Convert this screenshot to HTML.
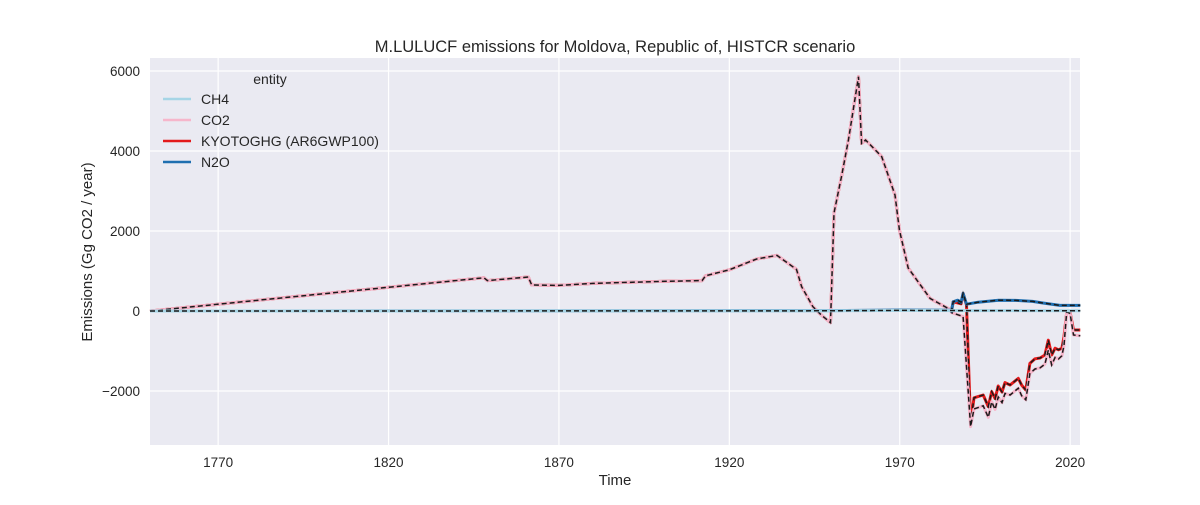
<!DOCTYPE html>
<html><head><meta charset="utf-8"><style>
body{margin:0;background:#fff;font-family:"Liberation Sans",sans-serif}
svg text{font-family:"Liberation Sans",sans-serif;fill:#262626}
</style></head><body>
<svg id="chart" width="1200" height="500" xmlns="http://www.w3.org/2000/svg">
<rect x="150" y="58" width="930" height="387" fill="#eaeaf2"/>
<g id="grid"></g><g id="series"></g><g id="ticks"></g>
<text x="615" y="52" text-anchor="middle" font-size="16.5">M.LULUCF emissions for Moldova, Republic of, HISTCR scenario</text>
<text x="615" y="485" text-anchor="middle" font-size="15">Time</text>
<text transform="translate(92,252) rotate(-90)" text-anchor="middle" font-size="15">Emissions (Gg CO2 / year)</text>
<g>
<text x="270" y="84" text-anchor="middle" font-size="14">entity</text>
<g><line x1="163" y1="99" x2="191" y2="99" stroke="#a6d5e6" stroke-width="2.5"/><text x="201" y="104" font-size="14">CH4</text></g>
<g><line x1="163" y1="120" x2="191" y2="120" stroke="#f6b6cb" stroke-width="2.5"/><text x="201" y="125" font-size="14">CO2</text></g>
<g><line x1="163" y1="141" x2="191" y2="141" stroke="#e31a1c" stroke-width="2.5"/><text x="201" y="146" font-size="14">KYOTOGHG (AR6GWP100)</text></g>
<g><line x1="163" y1="162" x2="191" y2="162" stroke="#1f6fb0" stroke-width="2.5"/><text x="201" y="167" font-size="14">N2O</text></g>
</g>
</svg>
<script>
const xTicks=[1770,1820,1870,1920,1970,2020];
const yTicks=[6000,4000,2000,0,-2000];
const yTickLabels=["6000","4000","2000","0","\u22122000"];
const co2Years=[1750,1848,1849,1861,1862,1870,1880,1900,1912,1913,1920,1928,1934,1939.7,1941.2,1944.5,1947,1949.7,1950.7,1953,1955,1957.9,1958.8,1960,1964.7,1968.6,1969.9,1972.5,1975.4,1978.9,1984.7,1985.2,1988.6,1990.8,1991.8,1994.5,1996,1997,1998,1998.9,2000,2000.9,2002.4,2004.8,2005.8,2007,2008.2,2009.7,2011.2,2012.6,2013.6,2014.6,2015.6,2016.6,2017.6,2018.2,2019,2020,2021,2023];
const co2Values=[0,830,760,850,650,640,690,740,760,880,1030,1300,1390,1040,610,110,-100,-290,2450,3400,4300,5857,4190,4275,3860,2900,2025,1075,730,315,40,-40,-140,-2890,-2450,-2370,-2660,-2270,-2460,-2150,-2290,-2060,-2100,-1930,-2120,-2220,-1560,-1450,-1420,-1330,-980,-1350,-1160,-1200,-1120,-860,-20,-60,-600,-620];
const kyotoYears=[1750,1848,1849,1861,1862,1870,1880,1900,1912,1913,1920,1928,1934,1939.7,1941.2,1944.5,1947,1949.7,1950.7,1953,1955,1957.9,1958.8,1960,1964.7,1968.6,1969.9,1972.5,1975.4,1978.9,1984.7,1985.2,1985.7,1988,1988.6,1989.6,1990.8,1991.8,1994.5,1996,1997,1998,1998.9,2000,2000.9,2002.4,2004.8,2005.8,2007,2008.2,2009.7,2011.2,2012.6,2013.6,2014.6,2015.6,2016.6,2017.6,2018.2,2019,2020,2021,2023];
const kyotoValues=[0,830,760,850,650,640,690,740,760,880,1030,1300,1390,1040,610,110,-100,-290,2450,3400,4300,5857,4190,4275,3860,2900,2025,1075,730,315,40,0,230,180,440,150,-2810,-2170,-2100,-2390,-2015,-2190,-1875,-2025,-1790,-1850,-1685,-1855,-1975,-1310,-1195,-1175,-1100,-730,-1100,-930,-970,-930,-640,-40,-40,-475,-475];
const n2oYears=[1750,1900,1950,1970,1984.7,1985.2,1985.7,1987,1988,1988.6,1989.6,1993,1999,2004,2009,2012,2017,2023];
const n2oValues=[0,5,10,25,20,0,230,270,220,440,170,220,270,265,240,200,140,140];
const ch4Years=[1750,1900,1950,1970,1990,2023];
const ch4Values=[0,2,5,15,10,5];
const NS='http://www.w3.org/2000/svg';
const X0=150,X1=1080,Y0=58,Y1=445,YR0=1750,YR1=2022.9,V0=-3350,V1=6325;
function xs(y){return X0+(y-YR0)/(YR1-YR0)*(X1-X0);}
function ys(v){return Y1-(v-V0)/(V1-V0)*(Y1-Y0);}
const grid=document.getElementById('grid'),ticks=document.getElementById('ticks'),ser=document.getElementById('series');
xTicks.forEach(t=>{
 const l=document.createElementNS(NS,'line');
 
 
 l.setAttribute('x1',xs(t));l.setAttribute('x2',xs(t));l.setAttribute('y1',Y0);l.setAttribute('y2',Y1);l.setAttribute('stroke','#fff');l.setAttribute('stroke-width','1.2');grid.appendChild(l);
 const tx=document.createElementNS(NS,'text');
 
 
 tx.setAttribute('x',xs(t));tx.setAttribute('y',467);tx.setAttribute('text-anchor','middle');tx.setAttribute('font-size','13.5');tx.textContent=t;ticks.appendChild(tx);
});
yTicks.forEach((t,i)=>{
 const l=document.createElementNS(NS,'line');
 
 
 l.setAttribute('x1',X0);l.setAttribute('x2',X1);l.setAttribute('y1',ys(t));l.setAttribute('y2',ys(t));l.setAttribute('stroke','#fff');l.setAttribute('stroke-width','1.2');grid.appendChild(l);
 const tx=document.createElementNS(NS,'text');
 
 
 tx.setAttribute('x',140);tx.setAttribute('y',ys(t)+5);tx.setAttribute('text-anchor','end');tx.setAttribute('font-size','13.5');tx.textContent=yTickLabels[i];ticks.appendChild(tx);
});
function draw(yrs,vals,color,name){
 const d=yrs.map((y,i)=>(i?'L':'M')+xs(y).toFixed(1)+','+ys(vals[i]).toFixed(1)).join('');
 const p=document.createElementNS(NS,'path');
 
 
 p.setAttribute('d',d);p.setAttribute('fill','none');p.setAttribute('stroke',color);p.setAttribute('stroke-width','3');p.setAttribute('stroke-linejoin','round');ser.appendChild(p);
 const q=document.createElementNS(NS,'path');
 
 
 q.setAttribute('d',d);q.setAttribute('fill','none');q.setAttribute('stroke','#1a1a1a');q.setAttribute('stroke-width','1.5');q.setAttribute('stroke-dasharray','5,3');ser.appendChild(q);
}
draw(kyotoYears,kyotoValues,'#e31a1c','kyotoghg');
draw(co2Years,co2Values,'#f6b6cb','co2');
draw(n2oYears,n2oValues,'#1f6fb0','n2o');
draw(ch4Years,ch4Values,'#a6d5e6','ch4');
</script>
</body></html>
